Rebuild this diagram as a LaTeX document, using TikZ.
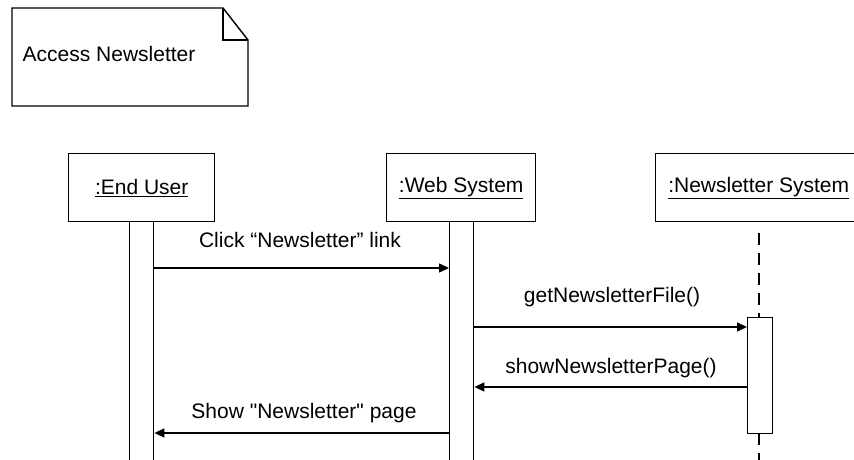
\documentclass[tikz,border=0pt]{standalone}
\usepackage{fontspec}
\setmainfont{Liberation Sans}[Ligatures=TeXOff]
\usetikzlibrary{arrows.meta}
\begin{document}
\begin{tikzpicture}[x=1pt,y=-1pt,
  line width=1.4pt,
  lbl/.style={font=\fontsize{21}{24}\selectfont, inner sep=0pt},
  headbox/.style={draw, rectangle, minimum height=68pt, inner sep=0pt, anchor=north west, font=\fontsize{21}{24}\selectfont},
  actbar/.style={draw, rectangle, fill=white, minimum width=24pt, inner sep=0pt, anchor=north west},
  msg/.style={-{Triangle[length=10pt,width=9pt]}},
  life/.style={dash pattern=on 12pt off 8pt, line width=1.5pt}]
\useasboundingbox (0,0) rectangle (854,460);
\clip (0,0) rectangle (854,460);

% diagram frame note
\draw (12,8) -- (223,8) -- (248,40) -- (248,106) -- (12,106) -- cycle;
\draw (223,8) -- (223,40) -- (248,40);
\node[lbl, anchor=west] (title) at (22,54) {Access Newsletter};

% lifeline heads
\node[headbox, minimum width=146pt] (eu) at (68,153) {\underline{:End User}};
\node[headbox, minimum width=149pt] (ws) at (386,153) {\underline{:Web System}};
\node[headbox, minimum width=206pt] (ns) at (655,153) {\underline{:Newsletter System}};

% lifelines and activation bars
\node[actbar, minimum height=260pt] (eubar) at (129,221) {};
\node[actbar, minimum height=260pt] (wsbar) at (449,221) {};
\coordinate (nstop) at (759,233);
\coordinate (nsbot) at (759,470);
\draw[life] (nstop) -- (nsbot);
\node[actbar, minimum width=25pt, minimum height=116pt] (nsbar) at (747,317) {};

% messages
\draw[msg] (eubar.east |- 0,268) -- (wsbar.west |- 0,268);
\node[lbl] (m1) at (300,240) {Click “Newsletter” link};

\draw[msg] (wsbar.east |- 0,327) -- (nsbar.west |- 0,327);
\node[lbl] (m2) at (612,297) {getNewsletterFile()};

\draw[msg] (nsbar.west |- 0,387) -- (wsbar.east |- 0,387);
\node[lbl] (m3) at (611,368) {showNewsletterPage()};

\draw[msg] (wsbar.west |- 0,433) -- (eubar.east |- 0,433);
\node[lbl] (m4) at (304,413) {Show "Newsletter" page};
\end{tikzpicture}
\end{document}
